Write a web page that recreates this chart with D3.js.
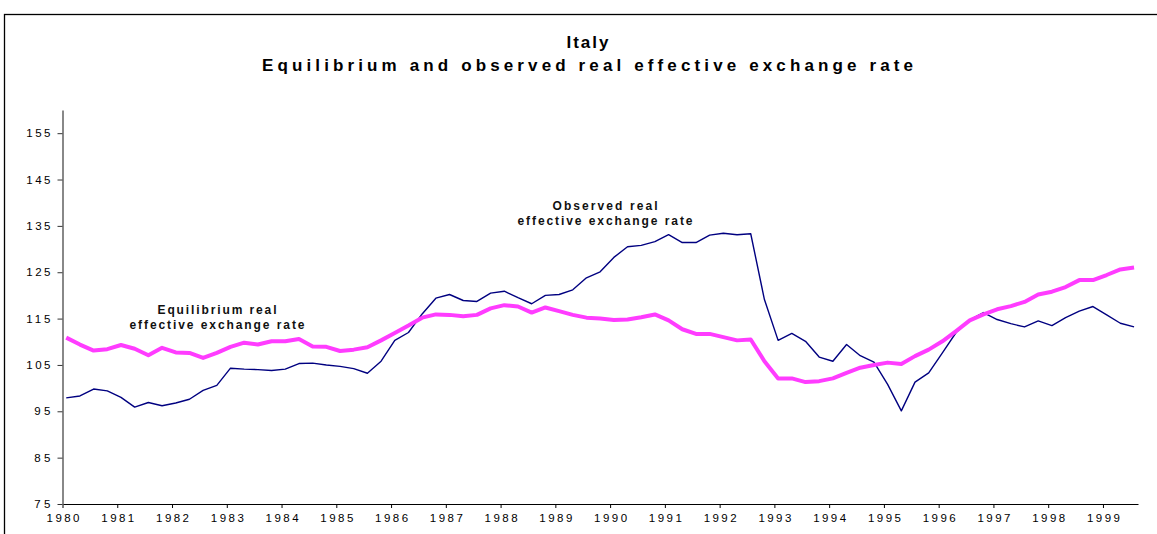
<!DOCTYPE html>
<html>
<head>
<meta charset="utf-8">
<script src="https://cdn.jsdelivr.net/npm/d3@7"></script>
<style>
  html, body { margin: 0; padding: 0; background: #fff; }
  svg { display: block; }
</style>
</head>
<body>
<svg id="chart"></svg>
<script>
// quarterly series, first point 1980 Q1
const startYear = 1980;
const observed = [
    97.9, 98.3, 99.8, 99.4, 98.0, 95.9, 96.9, 96.2, 96.8, 97.6,
    99.5, 100.6, 104.3, 104.1, 104.0, 103.8, 104.1, 105.3, 105.4, 105.0,
    104.7, 104.2, 103.2, 105.8, 110.3, 112.0, 116.0, 119.4, 120.2, 118.9,
    118.7, 120.5, 120.9, 119.5, 118.2, 120.0, 120.2, 121.2, 123.8, 125.1,
    128.2, 130.5, 130.8, 131.6, 133.1, 131.4, 131.4, 133.0, 133.4, 133.1,
    133.3, 119.1, 110.3, 111.8, 110.1, 106.7, 105.8, 109.4, 107.0, 105.6,
    100.8, 95.1, 101.3, 103.3, 107.6, 112.0, 114.7, 116.3, 114.8, 113.9,
    113.2, 114.5, 113.5, 115.2, 116.6, 117.6, 115.8, 114.0, 113.2
];
const equilibrium = [
    110.9, 109.4, 108.1, 108.4, 109.3, 108.5, 107.1, 108.7, 107.7, 107.6,
    106.5, 107.6, 108.9, 109.8, 109.4, 110.1, 110.1, 110.6, 109.0, 108.9,
    108.0, 108.3, 108.8, 110.3, 111.9, 113.5, 115.2, 115.9, 115.8, 115.5,
    115.8, 117.2, 117.9, 117.6, 116.3, 117.4, 116.6, 115.8, 115.2, 115.0,
    114.7, 114.8, 115.3, 115.9, 114.6, 112.7, 111.7, 111.7, 111.0, 110.3,
    110.5, 105.8, 102.1, 102.1, 101.3, 101.5, 102.1, 103.3, 104.4, 105.0,
    105.5, 105.2, 106.9, 108.3, 110.1, 112.3, 114.6, 115.9, 117.0, 117.7,
    118.6, 120.2, 120.8, 121.8, 123.3, 123.3, 124.4, 125.6, 126.0
];
const yearTicks = d3.range(1980, 2000);
const valueTicks = [75, 85, 95, 105, 115, 125, 135, 145, 155];
const titleLines = ["Italy", "Equilibrium and observed real effective exchange rate"];
const observedLabel = ["Observed real", "effective exchange rate"];
const equilibriumLabel = ["Equilibrium real", "effective exchange rate"];

const width = 1157, height = 534;
const font = "'Liberation Sans', Arial, Helvetica, sans-serif";
const margin = { top: 110, left: 62.5, right: 19, bottom: 30 };

const svg = d3.select("#chart")
    .attr("width", width)
    .attr("height", height);

// outer frame (right and bottom edges fall outside the picture)
svg.append("rect")
    .attr("x", 4.5).attr("y", 14.5)
    .attr("width", 1200).attr("height", 600)
    .attr("fill", "none")
    .attr("stroke", "#000")
    .attr("stroke-width", 1.3);

const xscale = d3.scaleLinear()
    .domain([1980, 1999.64])
    .range([margin.left, width - margin.right]);

const yscale = d3.scaleLinear()
    .domain([75, 160])
    .range([504, margin.top]);

const xOf = i => xscale(startYear + i / 4 + 0.068);

// titles
svg.append("g")
    .attr("font-family", font)
    .attr("font-weight", "bold")
    .attr("font-size", 17)
    .attr("text-anchor", "middle")
    .selectAll("text")
    .data(titleLines)
    .join("text")
    .attr("x", 587.5)
    .attr("y", (d, i) => 48 + i * 23)
    .attr("textLength", (d, i) => i == 0 ? 42 : 651)
    .attr("lengthAdjust", "spacing")
    .text(d => d);

// x axis
const gx = svg.append("g")
    .attr("transform", `translate(0,${yscale(75)})`)
    .call(d3.axisBottom(xscale)
        .tickValues(yearTicks)
        .tickFormat(d3.format("d"))
        .tickSize(4)
        .tickSizeOuter(0)
        .tickPadding(6));
gx.select(".domain").attr("stroke", "#000").attr("stroke-width", 1.2);
gx.selectAll("text")
    .attr("font-family", font)
    .attr("font-size", 11.5)
    .attr("fill", "#000")
    .attr("textLength", 33)
    .attr("lengthAdjust", "spacing");

// y axis
const gy = svg.append("g")
    .attr("transform", `translate(${margin.left},0)`)
    .call(d3.axisLeft(yscale)
        .tickValues(valueTicks)
        .tickSize(5)
        .tickSizeOuter(0)
        .tickPadding(7));
gy.select(".domain").attr("stroke", "#888").attr("stroke-width", 2);
gy.selectAll(".tick line").attr("stroke", "#333");
gy.selectAll("text")
    .attr("font-family", font)
    .attr("font-size", 11.5)
    .attr("fill", "#000")
    .attr("textLength", d => String(d).length * 8.1)
    .attr("lengthAdjust", "spacing");

// lines
const line = d3.line()
    .x((d, i) => xOf(i))
    .y(d => yscale(d));

svg.append("path")
    .datum(observed)
    .attr("fill", "none")
    .attr("stroke", "#000080")
    .attr("stroke-width", 1.4)
    .attr("stroke-linejoin", "round")
    .attr("d", line);

svg.append("path")
    .datum(equilibrium)
    .attr("fill", "none")
    .attr("stroke", "#ff3cff")
    .attr("stroke-width", 4)
    .attr("stroke-linejoin", "round")
    .attr("d", line);

// series labels
function addLabel(lines, cx, y0, widths) {
    svg.append("g")
        .attr("font-family", font)
        .attr("font-weight", "bold")
        .attr("font-size", 12)
        .attr("text-anchor", "middle")
        .attr("fill", "#111")
        .selectAll("text")
        .data(lines)
        .join("text")
        .attr("x", cx)
        .attr("y", (d, i) => y0 + i * 15)
        .attr("textLength", (d, i) => widths[i])
        .attr("lengthAdjust", "spacing")
        .text(d => d);
}
addLabel(observedLabel, 605, 209.5, [105, 175]);
addLabel(equilibriumLabel, 217, 313.5, [119, 175]);
</script>
</body>
</html>
